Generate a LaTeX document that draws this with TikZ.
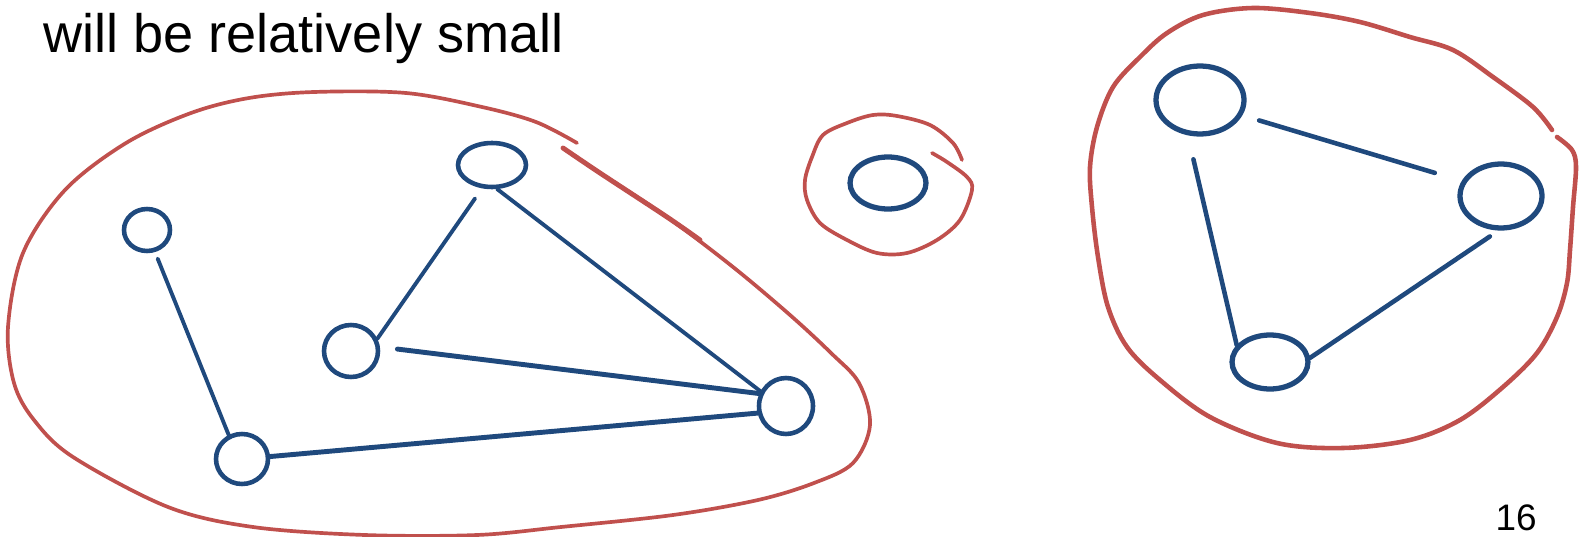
\documentclass[tikz,border=0pt]{standalone}
\usepackage{fontspec}
\setmainfont{Liberation Sans}
\usepackage{tikz}
\usetikzlibrary{shapes.geometric,positioning}
\definecolor{nodeblue}{RGB}{31,73,125}
\definecolor{hullred}{RGB}{192,80,77}

\begin{document}
\begin{tikzpicture}[
    x=0.02cm, y=-0.02cm,
    vertex/.style={ellipse, draw=nodeblue, line width=2.6pt, inner sep=0pt},
    edge/.style={draw=nodeblue, line width=2.2pt, line cap=round},
    hull/.style={draw=hullred, line width=2.1pt, line cap=round, line join=round}
]
\useasboundingbox (0,0) rectangle (1582,537);

\node [anchor=base west, inner sep=0pt, font=\fontsize{30.8}{37}\selectfont] (title) at (43,53) {will be relatively small};
\node [anchor=base east, inner sep=0pt, font=\fontsize{21}{25}\selectfont] (page) at (1537,530) {16};

% left component
\node [vertex, minimum width=0.92cm, minimum height=0.84cm] (a) at (147,230) {};
\node [vertex, minimum width=1.36cm, minimum height=0.88cm] (b) at (492,165) {};
\node [vertex, minimum width=1.08cm, minimum height=1.04cm] (c) at (351,351) {};
\node [vertex, minimum width=1.04cm, minimum height=1.0cm] (d) at (242,459) {};
\node [vertex, minimum width=1.08cm, minimum height=1.12cm] (e) at (786,406) {};

% lonely vertex
\node [vertex, line width=3pt, minimum width=1.52cm, minimum height=1.04cm] (f) at (888,183) {};

% right component
\node [vertex, line width=3pt, minimum width=1.76cm, minimum height=1.36cm] (g) at (1200,100) {};
\node [vertex, line width=3pt, minimum width=1.64cm, minimum height=1.28cm] (h) at (1501,196) {};
\node [vertex, line width=3pt, minimum width=1.52cm, minimum height=1.08cm] (i) at (1270,362) {};

\path [edge, shorten <=4pt] (a.-70) -- (d.119);
\path [edge, shorten <=7pt] (b.-113) -- (c.25);
\path [edge] (b.-78) -- (e.150);
\path [edge, line width=2.8pt, shorten <=10pt] (c.8) -- (e.155);
\path [edge, line width=2.8pt] (d.5) -- (e.-166);
\path [edge, line width=2.6pt, shorten <=10pt, shorten >=16pt] (g.-20) -- (h.159);
\path [edge, line width=2.6pt, shorten <=14pt] (g.-109) -- (i.153);
\path [edge, line width=2.6pt, shorten <=6pt] (h.-94) -- (i.6);

% red hulls
\draw [hull] plot [smooth, tension=0.55] coordinates {(577,143) (536,122) (482,107) (406,93) (314,92) (249,98) (191,113) (126,143) (65,190) (23,253) (8,327) (14,383) (34,420) (73,457) (168,507) (253,527) (365,535) (477,535) (561,527) (673,515) (758,500) (814,483) (853,463) (870,425) (859,383) (831,353) (790,315) (733,267) (667,217) (600,173) (563,148)};
\draw [hull, line width=2.8pt] plot [smooth, tension=0.55] coordinates {(563,148) (600,173) (667,217) (700,240)};
\draw [hull] plot [smooth, tension=0.55] coordinates {(962,160) (953,143) (930,125) (897,116) (873,115) (847,123) (823,135) (812,157) (805,180) (807,200) (820,223) (847,240) (877,253) (907,253) (937,240) (960,220) (972,190) (967,177) (947,162) (932,153)};
\draw [hull, line width=2.6pt] plot [smooth, tension=0.55] coordinates {(1552,130) (1533,107) (1493,77) (1453,50) (1410,37) (1360,22) (1310,13) (1253,8) (1203,15) (1167,33) (1140,57) (1113,87) (1097,127) (1090,167) (1092,207) (1098,257) (1108,307) (1127,347) (1160,380) (1210,417) (1277,443) (1343,448) (1410,440) (1460,420) (1503,387) (1537,353) (1557,317) (1567,283) (1570,250) (1573,207) (1576,167) (1572,150) (1557,137)};

\end{tikzpicture}
\end{document}
